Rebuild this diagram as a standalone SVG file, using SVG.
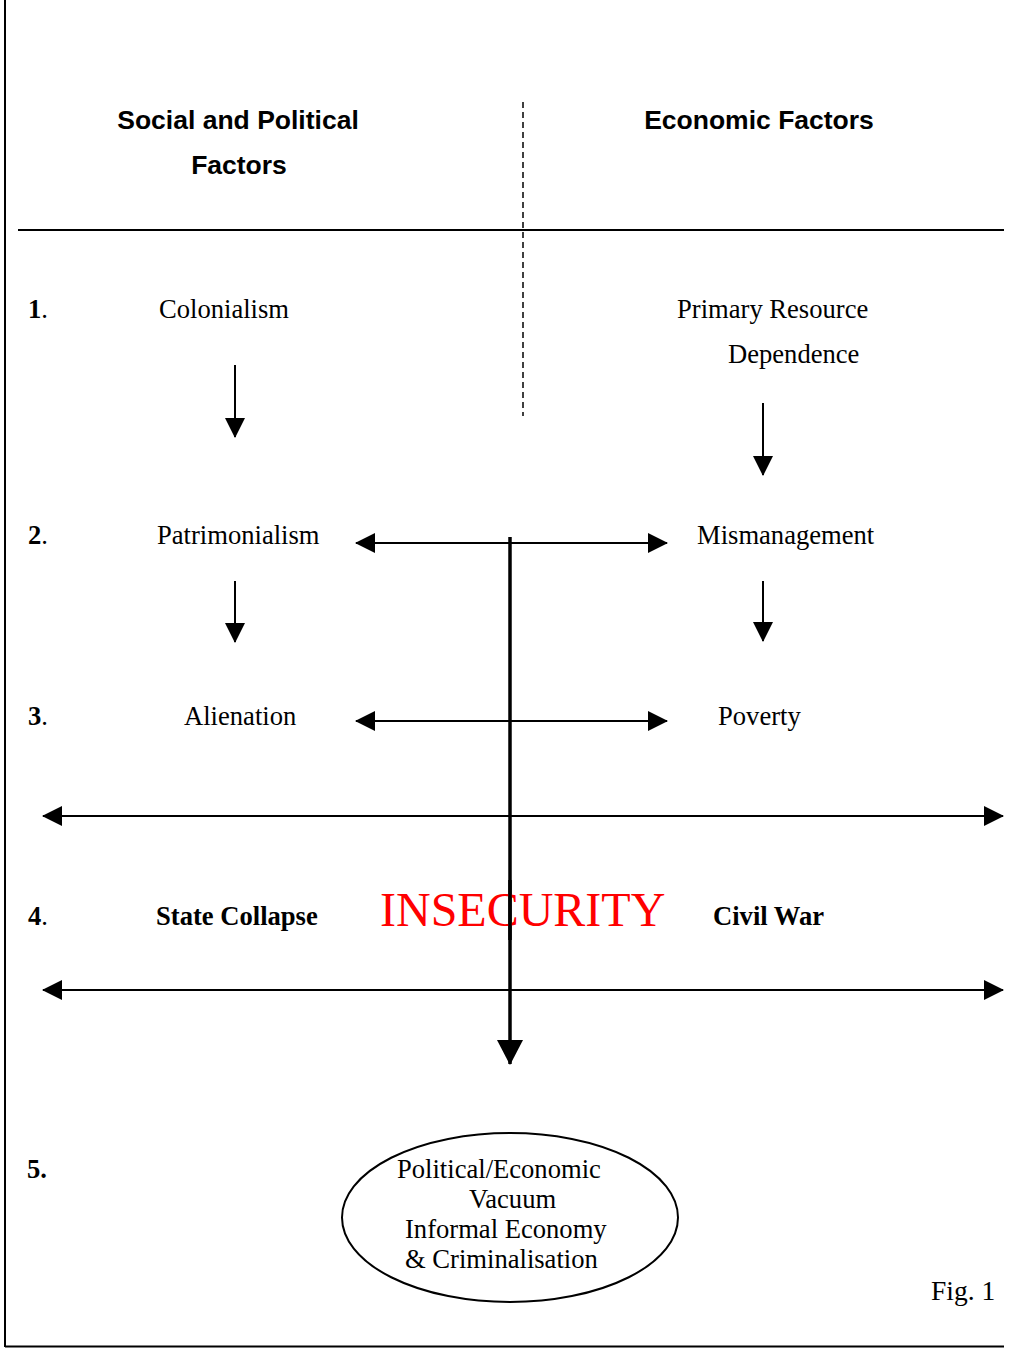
<svg xmlns="http://www.w3.org/2000/svg" width="1025" height="1348" viewBox="0 0 1025 1348">
<style>
  .hd { font-family: "Liberation Sans", Arial, sans-serif; font-weight: bold; font-size: 26.5px; fill: #000; }
  .t { font-family: "Liberation Serif", "Times New Roman", serif; font-size: 26.6px; fill: #000; }
  .b { font-weight: bold; }
  .num { font-family: "Liberation Serif", "Times New Roman", serif; font-size: 26.6px; fill: #000; }
  .ins { font-family: "Liberation Serif", "Times New Roman", serif; font-size: 48px; fill: #ff0000; }
  .ln { stroke: #000; stroke-width: 2; fill: none; }
</style>
<defs>
  <marker id="ah" markerUnits="userSpaceOnUse" viewBox="0 0 20 20" refX="19" refY="10" markerWidth="20" markerHeight="20" orient="auto-start-reverse">
    <path d="M0,0 L20,10 L0,20 Z" fill="#000"/>
  </marker>
  <marker id="ahBig" markerUnits="userSpaceOnUse" viewBox="0 0 25 26" refX="24" refY="13" markerWidth="25" markerHeight="26" orient="auto">
    <path d="M0,0 L25,13 L0,26 Z" fill="#000"/>
  </marker>
</defs>
<rect width="1025" height="1348" fill="#fff"/>

<g id="frame">
  <line x1="5" y1="0" x2="5" y2="1347" stroke="#000" stroke-width="2"/>
  <line x1="5" y1="1346.5" x2="1004" y2="1346.5" stroke="#000" stroke-width="2"/>
  <line x1="18" y1="230" x2="1004" y2="230" stroke="#000" stroke-width="2"/>
  <line x1="523" y1="102" x2="523" y2="416" stroke="#000" stroke-width="1.5" stroke-dasharray="6,4"/>
</g>

<g id="headings">
  <text class="hd" x="238" y="129" text-anchor="middle">Social and Political</text>
  <text class="hd" x="239" y="174" text-anchor="middle">Factors</text>
  <text class="hd" x="759" y="129" text-anchor="middle">Economic Factors</text>
</g>

<g id="numbers">
  <text class="num" x="28" y="318"><tspan class="b">1</tspan>.</text>
  <text class="num" x="28" y="544"><tspan class="b">2</tspan>.</text>
  <text class="num" x="28" y="725"><tspan class="b">3</tspan>.</text>
  <text class="num" x="28" y="925"><tspan class="b">4</tspan>.</text>
  <text class="num b" x="27" y="1178">5.</text>
</g>

<g id="n-colonialism"><text class="t" x="159" y="318">Colonialism</text></g>
<g id="n-primary"><text class="t" x="677" y="318">Primary Resource</text><text class="t" x="728" y="363">Dependence</text></g>
<g id="n-patrimonialism"><text class="t" x="157" y="544">Patrimonialism</text></g>
<g id="n-mismanagement"><text class="t" x="697" y="544">Mismanagement</text></g>
<g id="n-alienation"><text class="t" x="184" y="725">Alienation</text></g>
<g id="n-poverty"><text class="t" x="718" y="725">Poverty</text></g>
<g id="n-statecollapse"><text class="t b" x="156" y="925">State Collapse</text></g>
<g id="n-civilwar"><text class="t b" x="713" y="925">Civil War</text></g>

<g id="connectors">
  <line class="ln" x1="235" y1="365" x2="235" y2="437" marker-end="url(#ah)"/>
  <line class="ln" x1="763" y1="403" x2="763" y2="475" marker-end="url(#ah)"/>
  <line class="ln" x1="235" y1="581" x2="235" y2="642" marker-end="url(#ah)"/>
  <line class="ln" x1="763" y1="581" x2="763" y2="641" marker-end="url(#ah)"/>
  <line class="ln" x1="356" y1="543" x2="667" y2="543" marker-start="url(#ah)" marker-end="url(#ah)"/>
  <line class="ln" x1="356" y1="721" x2="667" y2="721" marker-start="url(#ah)" marker-end="url(#ah)"/>
  <line class="ln" x1="43" y1="816" x2="1003" y2="816" marker-start="url(#ah)" marker-end="url(#ah)"/>
  <line class="ln" x1="43" y1="990" x2="1003" y2="990" marker-start="url(#ah)" marker-end="url(#ah)"/>
  <line x1="510" y1="537" x2="510" y2="1064" stroke="#000" stroke-width="3.5" marker-end="url(#ahBig)"/>
</g>

<g id="n-insecurity"><text class="ins" x="380" y="926">INSECURITY</text></g>
<line x1="510" y1="880" x2="510" y2="940" stroke="#000" stroke-width="3.5"/>

<g id="n-vacuum">
  <ellipse cx="510" cy="1217.5" rx="168" ry="84.5" fill="none" stroke="#000" stroke-width="2"/>
  <text class="t" x="397" y="1178">Political/Economic</text>
  <text class="t" x="469" y="1208">Vacuum</text>
  <text class="t" x="405" y="1238">Informal Economy</text>
  <text class="t" x="405" y="1268">&amp; Criminalisation</text>
</g>

<g id="caption"><text class="t" x="931" y="1300" style="font-size:27.5px">Fig. 1</text></g>
</svg>
